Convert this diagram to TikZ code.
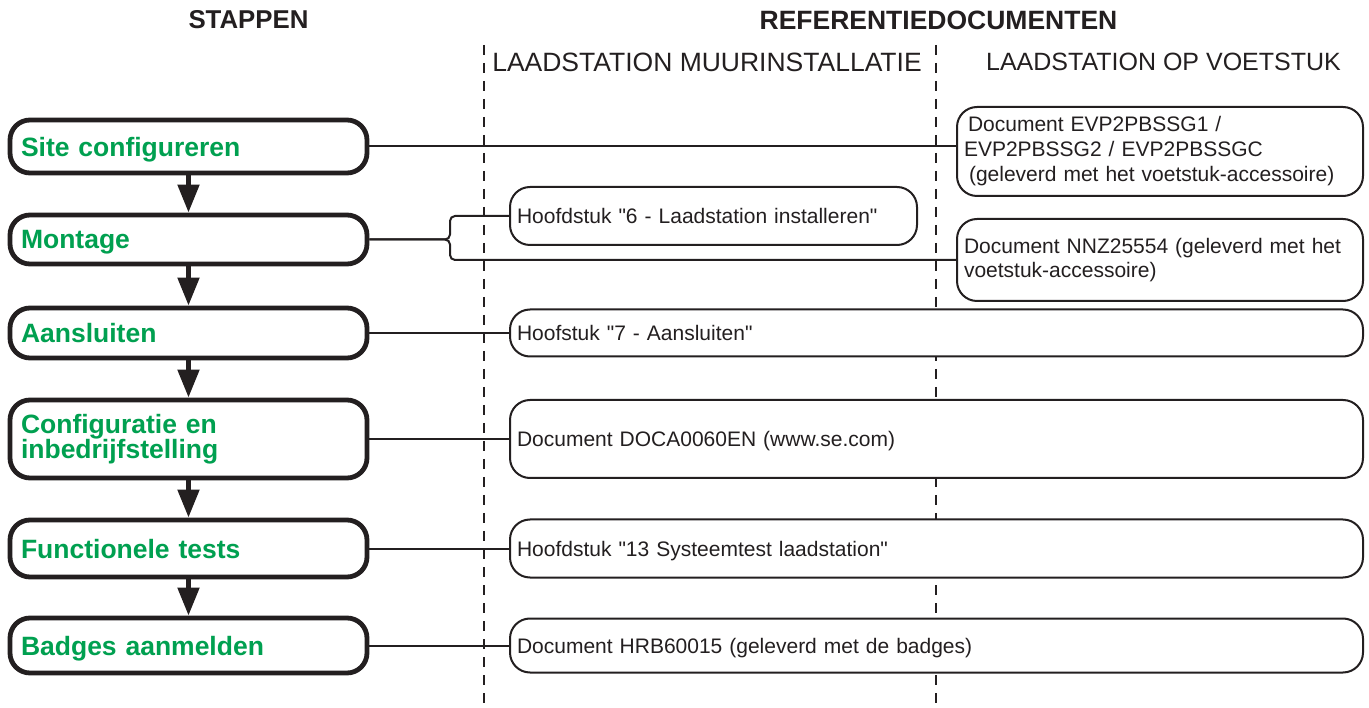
\documentclass[tikz,border=0pt]{standalone}
\usepackage{fontspec}
\setmainfont[Ligatures=TeXOff]{Liberation Sans}
\usetikzlibrary{arrows.meta}
\definecolor{stepgreen}{RGB}{0,160,80}
\definecolor{ink}{RGB}{35,31,32}
\begin{document}
\begin{tikzpicture}[x=1pt,y=-1pt,
  stepbox/.style={draw=ink, line width=4.8pt, rounded corners=20pt, fill=white,
    minimum width=357pt, text width=335pt, inner xsep=11pt, align=left, text depth=0pt,
    text=stepgreen, font=\fontsize{26.5}{25.5}\selectfont\bfseries},
  refbox/.style={draw=ink, line width=2pt, rounded corners=20pt, fill=white,
    inner xsep=7pt, align=left, text=ink, text depth=0pt, font=\fontsize{21}{25}\selectfont},
  multi/.style={text depth={}},
  conn/.style={draw=ink, line width=2pt},
  flow/.style={draw=ink, line width=5pt, -{Triangle[width=21pt,length=28pt]}},
  divider/.style={draw=ink, line width=2pt, dash pattern=on 10pt off 8pt},
  head/.style={text=ink},
  colhead/.style={text=ink}
]
\useasboundingbox (0,0) rectangle (1369,708);

% dividers
\draw[divider] (484,45) -- (484,708);
\draw[divider] (936,45) -- (936,708);

% headings
\node[head, font=\fontsize{25.8}{25.8}\selectfont\bfseries] (hs) at (248.5,20) {STAPPEN};
\node[head, font=\fontsize{26.5}{26.5}\selectfont\bfseries] (hr) at (938.5,20) {REFERENTIEDOCUMENTEN};
\node[colhead, font=\fontsize{26.5}{26.5}\selectfont] (c1) at (707,62) {LAADSTATION MUURINSTALLATIE};
\node[colhead, font=\fontsize{25}{25}\selectfont] (c2) at (1163.5,62) {LAADSTATION OP VOETSTUK};

% steps
\node[stepbox, minimum height=53pt] (s1) at (188.5,146.5) {Site configureren};
\node[stepbox, minimum height=49pt] (s2) at (188.5,239.5) {Montage};
\node[stepbox, minimum height=50pt] (s3) at (188.5,333) {Aansluiten};
\node[stepbox, multi, minimum height=78pt] (s4) at (188.5,439) {Configuratie en\\inbedrijfstelling};
\node[stepbox, minimum height=57pt] (s5) at (188.5,548.5) {Functionele tests};
\node[stepbox, minimum height=55pt] (s6) at (188.5,645.5) {Badges aanmelden};

\draw[flow] (s1.south) -- (s2.north);
\draw[flow] (s2.south) -- (s3.north);
\draw[flow] (s3.south) -- (s4.north);
\draw[flow] (s4.south) -- (s5.north);
\draw[flow] (s5.south) -- (s6.north);

% reference documents
\node[refbox, multi, minimum width=406pt, minimum height=89pt, text width=392pt] (e1) at (1160,151.5)
  {\hspace{4pt}Document EVP2PBSSG1 /\\EVP2PBSSG2 / EVP2PBSSGC\\\hspace{5pt}(geleverd met het voetstuk-accessoire)};
\node[refbox, minimum width=407pt, minimum height=58pt, text width=393pt] (h6) at (713.5,216)
  {Hoofdstuk "6 - Laadstation installeren"};
\node[refbox, multi, minimum width=406pt, minimum height=82pt, text width=392pt, font=\fontsize{21}{24}\selectfont] (n1) at (1160,260)
  {Document NNZ25554 (geleverd met het\\voetstuk-accessoire)};
\node[refbox, minimum width=853pt, minimum height=47pt, text width=839pt] (r3) at (936.5,333)
  {Hoofstuk "7 - Aansluiten"};
\node[refbox, minimum width=853pt, minimum height=78pt, text width=839pt] (r4) at (936.5,439)
  {Document DOCA0060EN (www.se.com)};
\node[refbox, minimum width=853pt, minimum height=58pt, text width=839pt] (r5) at (936.5,548.5)
  {Hoofdstuk "13 Systeemtest laadstation"};
\node[refbox, minimum width=853pt, minimum height=54pt, text width=839pt] (r6) at (936.5,645.5)
  {Document HRB60015 (geleverd met de badges)};

% connectors
\draw[conn] (s1.east) -- (s1.east -| e1.west);
\draw[conn, rounded corners=5pt] (h6.west) -| (450,239.5) -- (s2.east);
\draw[conn, rounded corners=5pt] (n1.west) -| (450,239.5) -- (s2.east);
\draw[conn] (s3.east) -- (s3.east -| r3.west);
\draw[conn] (s4.east) -- (s4.east -| r4.west);
\draw[conn] (s5.east) -- (s5.east -| r5.west);
\draw[conn] (s6.east) -- (s6.east -| r6.west);
\end{tikzpicture}
\end{document}
